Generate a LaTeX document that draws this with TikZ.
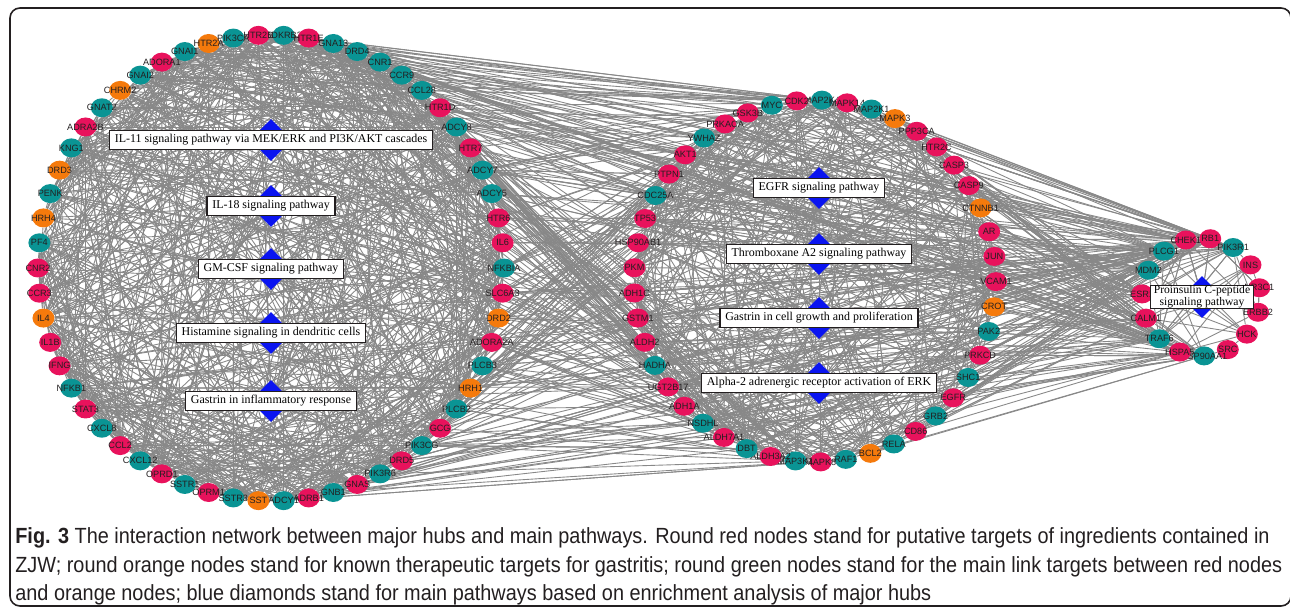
\documentclass[tikz,border=0pt]{standalone}
\usepackage{fontspec}
\setmainfont{Liberation Serif}
\newfontfamily\hubfont{Liberation Sans}
\newfontfamily\capfont[FakeStretch=0.905]{Liberation Sans}
\usetikzlibrary{
  positioning,
  shapes.geometric,
  backgrounds
}
\definecolor{hubr}{HTML}{E8125C}
\definecolor{hubg}{HTML}{0A9494}
\definecolor{hubo}{HTML}{F57A0C}
\definecolor{zjwblue}{HTML}{0A14F0}
\definecolor{zjwedge}{HTML}{888888}
\definecolor{zjwtext}{HTML}{231F20}

\begin{document}
\begin{tikzpicture}[
      x=0.02cm, y=-0.02cm,
      hub/.style={
        ellipse, minimum width=0.44cm, minimum height=0.38cm,
        inner sep=0pt
      },
      hublabel/.style={
        font=\hubfont\fontsize{5.2}{6}\selectfont, text=zjwtext, inner sep=0pt
      },
      pathdia/.style={
        diamond, fill=zjwblue, minimum width=0.84cm, minimum height=0.84cm,
        inner sep=0pt
      },
      pathbox/.style={
        rectangle, draw=zjwtext, line width=0.6pt, fill=white,
        font=\fontsize{6.8}{8}\selectfont, inner xsep=3pt, inner ysep=0pt,
        minimum height=0.38cm, align=center
      },
      link/.style={draw=zjwedge, line width=0.5pt},
      frame/.style={draw=zjwtext, line width=0.9pt, rounded corners=0.2cm},
      caption/.style={
        font=\capfont\fontsize{12.5}{16.4}\selectfont, text=zjwtext,
        inner sep=0pt, align=left
      }
    ]
      \useasboundingbox (0,0) rectangle (1290,607);
      \draw[frame] (10,8) rectangle (1291,606);

      % left ring
      \foreach \n/\c [count=\i from 0] in {BDKRB2/g, HTR1E/r, GNA13/g, DRD4/g, CNR1/g, CCR9/g, CCL28/g,
          HTR1D/r, ADCY8/g, HTR7/r, ADCY7/g, ADCY5/g, HTR6/r, IL6/r, NFKBIA/g, SLC6A3/r, DRD2/o,
          ADORA2A/r, PLCB3/g, HRH1/o, PLCB2/g, GCG/r, PIK3CG/g, DRD5/r, PIK3R6/g, GNAS/r, GNB1/g,
          ADRB1/r, ADCY1/g, SST/o, SSTR3/g, OPRM1/r, SSTR1/g, OPRD1/r, CXCL12/g, CCL2/r, CXCL8/g,
          STAT3/r, NFKB1/g, IFNG/r, IL1B/r, IL4/o, CCR3/r, CNR2/r, PF4/g, HRH4/o, PENK/g, DRD3/o,
          KNG1/g, ADRA2B/r, GNAT2/g, CHRM2/o, GNAI2/g, ADORA1/r, GNAI1/g, HTR2A/o, PIK3CA/g, HTR2B/r} {
        \pgfmathsetmacro{\ang}{-86.9+6.207*\i}
        \node[hub, fill=hub\c, label={[hublabel]center:\n}] (L\i) at ([shift={(271,268)}]\ang:233) {};
      }

      % middle ring
      \foreach \n/\c [count=\i from 0] in {MAP2K4/g, MAPK14/r, MAP2K1/g, MAPK3/o, PPP3CA/r, HTR2C/r,
          CASP3/r, CASP9/r, CTNNB1/o, AR/r, JUN/r, VCAM1/r, CROT/o, PAK2/g, PRKCD/r, SHC1/g, EGFR/r,
          GRB2/g, CD86/r, RELA/g, BCL2/o, RAF1/g, MAPK8/r, MAP3K1/g, ALDH3A2/r, DBT/g, ALDH7A1/r,
          NSDHL/g, ADH1A/r, UGT2B17/r, HADHA/g, ALDH2/r, GSTM1/r, ADH1C/r, PKM/r, HSP90AB1/r, TP53/r,
          CDC25A/g, PTPN1/r, AKT1/r, YWHAZ/g, PRKACA/r, GSK3B/r, MYC/g, CDK2/r} {
        \pgfmathsetmacro{\ang}{-87.8+8*\i}
        \node[hub, fill=hub\c, label={[hublabel]center:\n}] (M\i) at ([shift={(815,281)}]\ang:181) {};
      }

      % right ring
      \foreach \n/\c [count=\i from 0] in {RB1/r, PIK3R1/g, INS/r, NR3C1/r, ERBB2/r, HCK/r, SRC/r,
          HSP90AA1/g, HSPA5/r, TRAF6/g, CALM1/r, ESR1/r, MDM2/g, PLCG1/g, CHEK1/r} {
        \pgfmathsetmacro{\ang}{-81+24*\i}
        \node[hub, fill=hub\c, label={[hublabel]center:\n}] (R\i) at ([shift={(1201,297)}]\ang:59) {};
      }

      % pathways
      \node[pathdia] (il11) at (271,140) {};
      \node[pathdia] (il18) at (271,206) {};
      \node[pathdia] (gmcsf) at (271,269) {};
      \node[pathdia] (hist) at (271,333) {};
      \node[pathdia] (gastinf) at (271,401) {};
      \node[pathdia] (egfr) at (819,188) {};
      \node[pathdia] (txa2) at (819,254) {};
      \node[pathdia] (gastcell) at (819,318) {};
      \node[pathdia] (alpha2) at (819,383) {};
      \node[pathdia] (proins) at (1202,297) {};

      \begin{scope}[on background layer]
        \pgfmathsetseed{7}
        % chords inside each ring
        \foreach \k in {1,...,660} {
          \pgfmathrandominteger{\a}{0}{57}
          \pgfmathrandominteger{\s}{1}{57}
          \pgfmathtruncatemacro{\b}{mod(\a+\s,58)}
          \draw[link] (L\a) -- (L\b);
        }
        \foreach \k in {1,...,290} {
          \pgfmathrandominteger{\a}{0}{44}
          \pgfmathrandominteger{\s}{1}{44}
          \pgfmathtruncatemacro{\b}{mod(\a+\s,45)}
          \draw[link] (M\a) -- (M\b);
        }
        \foreach \k in {1,...,36} {
          \pgfmathrandominteger{\a}{0}{14}
          \pgfmathrandominteger{\s}{1}{14}
          \pgfmathtruncatemacro{\b}{mod(\a+\s,15)}
          \draw[link] (R\a) -- (R\b);
        }
        % between rings
        \foreach \k in {1,...,190} {
          \pgfmathrandominteger{\a}{-8}{28}
          \pgfmathtruncatemacro{\a}{mod(\a+58,58)}
          \pgfmathrandominteger{\b}{21}{46}
          \pgfmathtruncatemacro{\b}{mod(\b,45)}
          \draw[link] (L\a) -- (M\b);
        }
        \foreach \k in {1,...,80} {
          \pgfmathrandominteger{\a}{0}{57}
          \pgfmathrandominteger{\b}{0}{44}
          \draw[link] (L\a) -- (M\b);
        }
        \foreach \k in {1,...,70} {
          \pgfmathrandominteger{\a}{-6}{28}
          \pgfmathtruncatemacro{\a}{mod(\a+58,58)}
          \pgfmathrandominteger{\b}{7}{16}
          \pgfmathtruncatemacro{\b}{mod(\b,15)}
          \draw[link] (L\a) -- (R\b);
        }
        \foreach \k in {1,...,170} {
          \pgfmathrandominteger{\a}{0}{44}
          \pgfmathrandominteger{\b}{7}{16}
          \pgfmathtruncatemacro{\b}{mod(\b,15)}
          \draw[link] (M\a) -- (R\b);
        }
        % pathway links
        \foreach \d in {il11, il18, gmcsf, hist, gastinf} {
          \foreach \k in {1,...,14} {
            \pgfmathrandominteger{\a}{0}{57}
            \draw[link] (\d) -- (L\a);
          }
        }
        \foreach \d in {egfr, txa2, gastcell, alpha2} {
          \foreach \k in {1,...,12} {
            \pgfmathrandominteger{\a}{0}{44}
            \draw[link] (\d) -- (M\a);
          }
        }
        \foreach \k in {1,...,8} {
          \pgfmathrandominteger{\a}{0}{14}
          \draw[link] (proins) -- (R\a);
        }
      \end{scope}

      \node[pathbox] (il11box) at (il11) {IL-11 signaling pathway via MEK/ERK and PI3K/AKT cascades};
      \node[pathbox] (il18box) at (il18) {IL-18 signaling pathway};
      \node[pathbox] (gmcsfbox) at (gmcsf) {GM-CSF signaling pathway};
      \node[pathbox] (histbox) at (hist) {Histamine signaling in dendritic cells};
      \node[pathbox] (gastinfbox) at (gastinf) {Gastrin in inflammatory response};
      \node[pathbox] (egfrbox) at (egfr) {EGFR signaling pathway};
      \node[pathbox] (txa2box) at (txa2) {Thromboxane A2 signaling pathway};
      \node[pathbox] (gastcellbox) at (gastcell) {Gastrin in cell growth and proliferation};
      \node[pathbox] (alpha2box) at (alpha2) {Alpha-2 adrenergic receptor activation of ERK};
      \node[pathbox, font=\fontsize{6.6}{5.4}\selectfont, inner xsep=2pt] (proinsbox) at (proins)
        {Proinsulin C-peptide\\signaling pathway};

      \node[caption, anchor=north west] (cap) at (15,527)
        {\textbf{Fig. 3} The interaction network between major hubs and main pathways. Round red nodes stand for putative targets of ingredients contained in\\
         ZJW; round orange nodes stand for known therapeutic targets for gastritis; round green nodes stand for the main link targets between red nodes\\
         and orange nodes; blue diamonds stand for main pathways based on enrichment analysis of major hubs};
    \end{tikzpicture}
\end{document}
